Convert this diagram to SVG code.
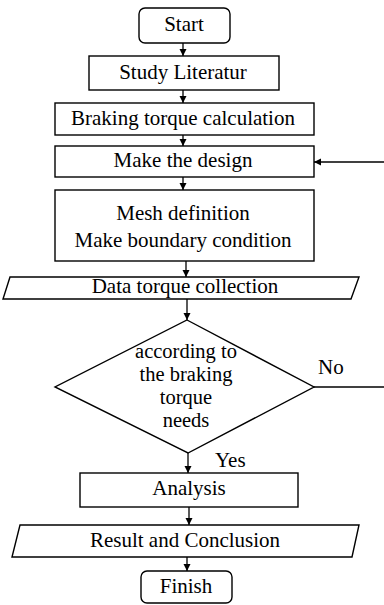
<svg xmlns="http://www.w3.org/2000/svg" width="384" height="605" viewBox="0 0 384 605" font-family="Liberation Serif" font-size="21">
<defs>
<style>
.s{fill:#fff;stroke:#000;stroke-width:1.4}
.t{fill:#000;text-anchor:middle}
.l{fill:#000}
.c{fill:none;stroke:#000;stroke-width:1.3}
</style>
<marker id="ah" markerWidth="8" markerHeight="8" refX="7" refY="4" orient="auto" markerUnits="userSpaceOnUse">
<path d="M0,0.5 L7,4 L0,7.5 Z" fill="#000"/>
</marker>
</defs>
<rect width="384" height="605" fill="#fff"/>
<g id="connectors">
<line class="c" x1="183" y1="43" x2="183" y2="56" marker-end="url(#ah)"/>
<line class="c" x1="183" y1="90" x2="183" y2="103" marker-end="url(#ah)"/>
<line class="c" x1="183" y1="135" x2="183" y2="146" marker-end="url(#ah)"/>
<line class="c" x1="183" y1="177" x2="183" y2="190" marker-end="url(#ah)"/>
<line class="c" x1="186" y1="261" x2="186" y2="277" marker-end="url(#ah)"/>
<line class="c" x1="187" y1="299" x2="187" y2="320" marker-end="url(#ah)"/>
<line class="c" x1="188" y1="453" x2="188" y2="473" marker-end="url(#ah)"/>
<line class="c" x1="189" y1="507" x2="189" y2="525" marker-end="url(#ah)"/>
<line class="c" x1="187" y1="557" x2="187" y2="571" marker-end="url(#ah)"/>
<line class="c" x1="384" y1="162" x2="314" y2="162" marker-end="url(#ah)"/>
<line class="c" x1="314" y1="387" x2="384" y2="387"/>
<text class="l" x="318" y="374">No</text>
<text class="l" x="215" y="467">Yes</text>
</g>
<g id="start">
<rect class="s" x="139" y="8" width="91" height="35" rx="6"/>
<text class="t" x="184" y="31">Start</text>
</g>
<g id="study">
<rect class="s" x="89" y="56" width="190" height="34"/>
<text class="t" x="183" y="79">Study Literatur</text>
</g>
<g id="braking">
<rect class="s" x="55" y="103" width="259" height="32"/>
<text class="t" x="183" y="125">Braking torque calculation</text>
</g>
<g id="design">
<rect class="s" x="55" y="146" width="259" height="31"/>
<text class="t" x="183" y="167">Make the design</text>
</g>
<g id="mesh">
<rect class="s" x="55" y="190" width="259" height="71"/>
<text class="t" x="183" y="220">Mesh definition</text>
<text class="t" x="183" y="247">Make boundary condition</text>
</g>
<g id="data">
<polygon class="s" points="10,277 359,277 351,299 3,299"/>
<text class="t" x="185" y="293">Data torque collection</text>
</g>
<g id="decision">
<polygon class="s" points="187,320 314,387 188,453 55,387"/>
<g font-size="20.5">
<text class="t" x="186" y="357.5">according to</text>
<text class="t" x="186" y="380.5">the braking</text>
<text class="t" x="186" y="403.5">torque</text>
<text class="t" x="186" y="426.5">needs</text>
</g>
</g>
<g id="analysis">
<rect class="s" x="80" y="473" width="218" height="34"/>
<text class="t" x="189" y="495">Analysis</text>
</g>
<g id="result">
<polygon class="s" points="20,525 359,525 352,557 12,557"/>
<text class="t" x="185" y="547">Result and Conclusion</text>
</g>
<g id="finish">
<rect class="s" x="141" y="571" width="91" height="32" rx="6"/>
<text class="t" x="186" y="593">Finish</text>
</g>
</svg>
